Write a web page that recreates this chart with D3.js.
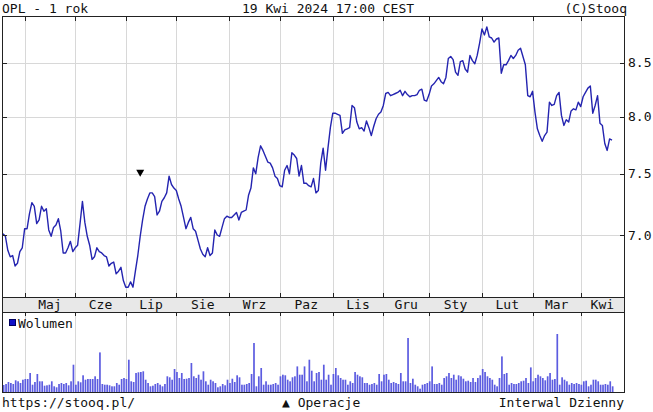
<!DOCTYPE html>
<html>
<head>
<meta charset="utf-8">
<script src="https://cdn.jsdelivr.net/npm/d3@7"></script>
<style>
  body { margin: 0; background: #fff; }
  text { font-family: "DejaVu Sans Mono", monospace; font-size: 13px; fill: #111; }
</style>
</head>
<body>
<script>
// OPL - 1 rok, daily closes (trading-day index) and volume in thousands
var months = ['Maj','Cze','Lip','Sie','Wrz','Paz','Lis','Gru','Sty','Lut','Mar','Kwi'];
var monthStart = [9, 30, 51, 72, 94, 115, 137, 158, 177, 199, 220, 240];
var priceTicks = [7.0, 7.5, 8.0, 8.5];

var prices = [
  7.01, 6.99, 6.88, 6.83, 6.84, 6.76, 6.78, 6.87, 6.90, 7.05,
  7.05, 7.17, 7.26, 7.23, 7.09, 7.12, 7.23, 7.19, 7.21, 7.04,
  6.99, 7.06, 7.08, 7.13, 7.03, 6.86, 6.86, 6.90, 6.95, 6.87,
  6.90, 6.92, 7.09, 7.27, 7.10, 6.99, 6.92, 6.81, 6.83, 6.90,
  6.87, 6.86, 6.84, 6.83, 6.76, 6.78, 6.79, 6.70, 6.72, 6.75,
  6.65, 6.60, 6.60, 6.64, 6.60, 6.72, 6.84, 6.99, 7.12, 7.23,
  7.29, 7.34, 7.34, 7.31, 7.16, 7.19, 7.27, 7.30, 7.34, 7.48,
  7.41, 7.38, 7.36, 7.29, 7.23, 7.14, 7.05, 7.10, 7.14, 7.05,
  7.03, 6.96, 6.89, 6.85, 6.83, 6.90, 6.84, 6.86, 7.04, 7.00,
  6.99, 7.06, 7.13, 7.15, 7.14, 7.14, 7.16, 7.18, 7.12, 7.18,
  7.19, 7.20, 7.32, 7.38, 7.55, 7.50, 7.64, 7.74, 7.70, 7.65,
  7.60, 7.59, 7.55, 7.48, 7.46, 7.40, 7.39, 7.53, 7.57, 7.50,
  7.68, 7.66, 7.63, 7.48, 7.57, 7.42, 7.42, 7.40, 7.39, 7.46,
  7.34, 7.36, 7.59, 7.72, 7.53, 7.72, 7.90, 8.03, 8.03, 8.02,
  8.01, 7.85, 7.88, 7.89, 7.90, 8.10, 8.08, 7.95, 7.89, 7.90,
  7.87, 7.96, 7.90, 7.83, 7.91, 7.98, 8.02, 8.04, 8.10, 8.21,
  8.22, 8.19, 8.20, 8.21, 8.22, 8.24, 8.19, 8.23, 8.20, 8.18,
  8.19, 8.19, 8.20, 8.24, 8.25, 8.15, 8.14, 8.20, 8.28, 8.30,
  8.33, 8.36, 8.32, 8.30, 8.36, 8.54, 8.56, 8.53, 8.41, 8.38,
  8.51, 8.52, 8.44, 8.41, 8.57, 8.52, 8.49, 8.57, 8.69, 8.83,
  8.77, 8.85, 8.75, 8.74, 8.70, 8.73, 8.74, 8.40, 8.48, 8.48,
  8.52, 8.57, 8.54, 8.57, 8.62, 8.64, 8.56, 8.48, 8.19, 8.18,
  8.23, 8.04, 7.89, 7.83, 7.78, 7.83, 7.86, 8.13, 8.10, 8.11,
  8.19, 8.22, 8.01, 7.92, 7.97, 7.95, 8.05, 8.07, 8.06, 8.13,
  8.09, 8.18, 8.22, 8.26, 8.28, 8.03, 8.10, 8.19, 7.94, 7.92,
  7.76, 7.70, 7.80, 7.79
];

var volumes = [
  700, 800, 1000, 900, 800, 1170, 1070, 900, 1230, 1300, 1300,
  1900, 730, 1000, 1800, 1070, 1070, 630, 670, 730, 1070,
  570, 470, 800, 900, 800, 900, 670, 1070, 2730, 730,
  1070, 970, 1670, 1230, 1300, 1300, 1300, 1570, 1300, 3960,
  800, 730, 730, 670, 570, 570, 900, 730, 1300, 1400,
  1300, 3230, 1070, 1000, 1900, 1970, 2000, 2070, 1230, 900,
  570, 630, 800, 900, 730, 570, 800, 1570, 1470, 1230,
  2300, 2000, 1400, 1900, 1300, 1330, 1400, 2900, 1570, 1400,
  1730, 1230, 2070, 1070, 730, 1230, 1070, 900,
  470, 570, 800, 670, 1230, 900, 1330, 1000, 1670, 1470, 730, 730, 800, 900, 1800,
  4900,
  570, 1570, 2400, 730, 1070, 730, 730, 800,
  900, 730, 1570, 1730, 1670, 1230, 1070, 1470, 1570, 2560, 1730, 1730, 2560, 1070, 3230,
  2130, 1070, 1900, 2000, 1230, 2730, 1230, 1730, 730, 1800, 2400, 1670, 1400, 1230, 1230,
  730, 1070, 900, 2000, 1730, 1570, 1470, 900, 900, 730, 800, 900, 730, 1800, 1070, 1730, 1800,
  1230, 900, 1000, 900, 800, 1900, 1070, 1070,
  5400,
  900, 1330, 730, 570, 330, 730, 800,
  900, 1070, 2560,
  800, 800, 900, 730, 1400, 1570, 1900, 1400, 1730, 1230, 1670, 1570, 1330, 1070,
  1130, 1000, 1400, 1000, 1400, 1670, 2300, 2000, 1570, 1400, 1230, 730, 570, 1400,
  3560,
  1800, 1900, 730, 900, 800, 800, 900, 1070, 1130, 1400, 900,
  2460, 1070, 1400, 1730, 1570, 1400, 1170, 1570, 1900, 1230, 1300,
  5800,
  730, 1470, 1230, 1070, 730, 900, 800, 900, 800, 730, 1070, 1130,
  570, 730, 1230, 1230, 1070, 730, 730, 800, 730, 1070, 570
];

var operacje = [{ i: 57, p: 7.5 }];

var W = 653, H = 412,
  left = 3, right = 624,
  priceTop = 17, priceBottom = 297,
  stripBottom = 312, volBottom = 392;

var x = d3.scaleLinear().domain([0, prices.length - 1]).range([3, 612]);
var y = d3.scaleLog().domain([7.0, 8.5]).range([235, 62.7]);
var yv = d3.scaleLinear().domain([0, 8000]).range([volBottom, stripBottom]);

var svg = d3.select('body').append('svg')
  .attr('width', W)
  .attr('height', H);

var grid = '#d8d8d8', frame = '#222';

// header
svg.append('text').attr('x', 2).attr('y', 12.5).text('OPL - 1 rok');
svg.append('text').attr('x', 328).attr('y', 12.5).attr('text-anchor', 'middle')
  .text('19 Kwi 2024 17:00 CEST');
svg.append('text').attr('x', 627).attr('y', 12.5).attr('text-anchor', 'end').text('(C)Stooq');

// month strip
svg.append('rect')
  .attr('x', left).attr('y', priceBottom)
  .attr('width', right - left).attr('height', stripBottom - priceBottom)
  .attr('fill', '#e8e8e8');

// horizontal grid
svg.selectAll('.hgrid').data(priceTicks).enter().append('line')
  .attr('x1', left).attr('x2', right)
  .attr('y1', function(d){ return Math.round(y(d)) + 0.5; })
  .attr('y2', function(d){ return Math.round(y(d)) + 0.5; })
  .attr('stroke', grid);

// vertical grid in both panels
[[priceTop, priceBottom], [stripBottom, volBottom]].forEach(function(r){
  svg.selectAll(null).data(monthStart).enter().append('line')
    .attr('x1', function(d){ return Math.round(x(d)) + 0.5; })
    .attr('x2', function(d){ return Math.round(x(d)) + 0.5; })
    .attr('y1', r[0]).attr('y2', r[1])
    .attr('stroke', grid);
});

// month labels
var bounds = monthStart.map(function(d){ return x(d); }).concat([right]);
svg.selectAll('.mlab').data(months).enter().append('text')
  .attr('x', function(d, i){ return (bounds[i] + bounds[i + 1]) / 2; })
  .attr('y', 309)
  .attr('text-anchor', 'middle')
  .text(function(d){ return d; });

// volume bars
svg.selectAll('.vol').data(volumes).enter().append('rect')
  .attr('x', function(d, i){ return x(i) - 0.2; })
  .attr('width', 1.7)
  .attr('y', function(d){ return yv(d); })
  .attr('height', function(d){ return volBottom - yv(d); })
  .attr('fill', '#5c5ce0');

// price line
var line = d3.line()
  .x(function(d, i){ return x(i); })
  .y(function(d){ return y(d); });

svg.append('path')
  .datum(prices)
  .attr('d', line)
  .attr('fill', 'none')
  .attr('stroke', '#2424b0')
  .attr('stroke-width', 1.4)
  .attr('stroke-linejoin', 'round');

// operations marker
svg.selectAll('.op').data(operacje).enter().append('path')
  .attr('d', function(d){
    var cx = x(d.i), cy = y(d.p);
    return 'M' + (cx - 4) + ',' + (cy - 4) + 'L' + (cx + 4) + ',' + (cy - 4) + 'L' + cx + ',' + (cy + 3) + 'Z';
  })
  .attr('fill', '#000');

// frames
function hline(yy){
  svg.append('line').attr('x1', left - 1).attr('x2', right + 1)
    .attr('y1', yy).attr('y2', yy).attr('stroke', frame);
}
hline(priceTop - 0.5);
hline(priceBottom + 0.5);
hline(stripBottom + 0.5);
hline(volBottom + 0.5);
[left - 0.5, right + 0.5].forEach(function(xx){
  svg.append('line').attr('x1', xx).attr('x2', xx)
    .attr('y1', priceTop - 1).attr('y2', volBottom + 1).attr('stroke', frame);
});

// ticks on month lines
[[priceTop, priceTop + 4], [priceBottom - 4, priceBottom], [stripBottom, stripBottom + 4]].forEach(function(r){
  svg.selectAll(null).data(monthStart).enter().append('line')
    .attr('x1', function(d){ return Math.round(x(d)) + 0.5; })
    .attr('x2', function(d){ return Math.round(x(d)) + 0.5; })
    .attr('y1', r[0]).attr('y2', r[1])
    .attr('stroke', frame);
});

// price ticks and labels
[[left, left + 4], [right - 4, right]].forEach(function(r){
  svg.selectAll(null).data(priceTicks).enter().append('line')
    .attr('x1', r[0]).attr('x2', r[1])
    .attr('y1', function(d){ return Math.round(y(d)) + 0.5; })
    .attr('y2', function(d){ return Math.round(y(d)) + 0.5; })
    .attr('stroke', frame);
});
svg.selectAll('.plab').data(priceTicks).enter().append('text')
  .attr('x', 628)
  .attr('y', function(d){ return y(d) + 4.5; })
  .text(function(d){ return d.toFixed(1); });

// volume legend
svg.append('rect').attr('x', 9.5).attr('y', 319.5).attr('width', 6).attr('height', 6)
  .attr('fill', '#1010c8').attr('stroke', '#000060');
svg.append('text').attr('x', 18).attr('y', 328).text('Wolumen');

// footer
svg.append('text').attr('x', 2).attr('y', 407).text('https://stooq.pl/');
svg.append('text').attr('x', 282).attr('y', 407).text('\u25B2 Operacje');
svg.append('text').attr('x', 624).attr('y', 407).attr('text-anchor', 'end').text('Interwal Dzienny');
</script>
</body>
</html>
